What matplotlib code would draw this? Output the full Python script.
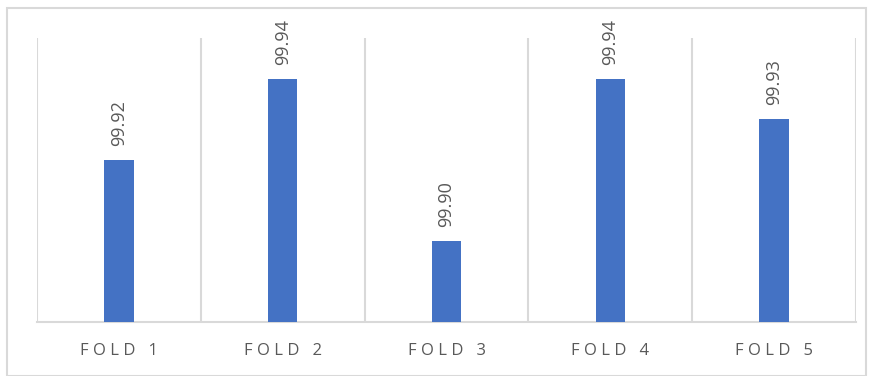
import matplotlib.pyplot as plt
from matplotlib.patches import Rectangle

folds = ['FOLD 1', 'FOLD 2', 'FOLD 3', 'FOLD 4', 'FOLD 5']
accuracy = [99.92, 99.94, 99.90, 99.94, 99.93]

plt.rcParams['font.family'] = ['Open Sans', 'DejaVu Sans']

fig = plt.figure(figsize=(8.74, 3.76), dpi=100)
ax = fig.add_axes([37 / 874, 1 - 322 / 376, (856 - 37) / 874, (322 - 38) / 376])

# outer chart frame
fig.patches.append(Rectangle((7 / 874, 0), 859 / 874, 1 - 8 / 376, transform=fig.transFigure,
                             fill=False, edgecolor='#d9d9d9', linewidth=1.5))

x = range(len(folds))
bars = ax.bar(x, accuracy, width=0.18, color='#4472c4', zorder=3)

ax.set_ylim(99.88, 99.95)
ax.set_xlim(-0.5, len(folds) - 0.5)

# category separators
for b in range(len(folds) + 1):
    ax.axvline(b - 0.5, color='#d9d9d9', linewidth=1.5, zorder=1)

for sp in ['top', 'left', 'right']:
    ax.spines[sp].set_visible(False)
ax.spines['bottom'].set_color('#d9d9d9')
ax.spines['bottom'].set_linewidth(1.5)
ax.set_yticks([])
ax.set_xticks(list(x))
ax.set_xticklabels([' '.join(f) for f in folds], color='#595959', fontsize=12)
ax.tick_params(axis='x', length=0, pad=15)

for bar, v in zip(bars, accuracy):
    ax.annotate(f'{v:.2f}', (bar.get_x() + bar.get_width() / 2, v),
                xytext=(0, 10), textcoords='offset points',
                rotation=90, ha='center', va='bottom', color='#595959', fontsize=13)

fig.savefig('out.png', dpi=100)
